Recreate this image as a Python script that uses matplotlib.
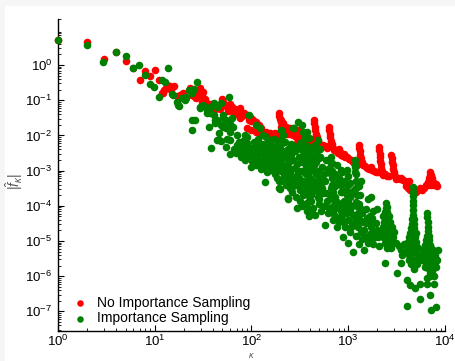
import numpy as np
import matplotlib
matplotlib.use('Agg')
import matplotlib.pyplot as plt
from matplotlib.patches import Rectangle
from matplotlib.ticker import LogLocator, NullFormatter

plt.rcParams['font.family'] = ['Liberation Sans', 'DejaVu Sans']
plt.rcParams['mathtext.fontset'] = 'custom'
plt.rcParams['mathtext.rm'] = 'Liberation Sans'
plt.rcParams['mathtext.it'] = 'Liberation Sans:italic'

# Data as (log10 kappa, log10 |f_kappa|)
red_head = [(0.00, 0.71), (0.30, 0.65), (0.48, 0.17), (0.60, 0.37), (0.70, 0.12),
            (0.78, -0.09), (0.85, -0.43), (0.90, -0.17), (0.95, -0.31), (1.00, -0.14)]
red_body = [(1.04, -0.43), (1.08, -0.80), (1.09, -0.80), (1.10, -0.71), (1.12, -0.66),
            (1.13, -0.58), (1.16, -0.60), (1.17, -0.71), (1.20, -0.60), (1.23, -0.87),
            (1.26, -0.85), (1.29, -0.80), (1.32, -0.95), (1.36, -0.66), (1.38, -0.80),
            (1.38, -0.85), (1.42, -0.90), (1.43, -0.82), (1.43, -0.95), (1.47, -0.66),
            (1.49, -0.88), (1.49, -1.04), (1.50, -0.76), (1.52, -0.97), (1.55, -1.18),
            (1.57, -1.33), (1.61, -1.28), (1.64, -1.23), (1.66, -1.18), (1.69, -0.97),
            (1.71, -1.04), (1.73, -1.14), (1.78, -1.11), (1.78, -1.14), (1.81, -1.33),
            (1.88, -1.23), (1.88, -1.51), (1.95, -1.42), (1.99, -1.51), (2.05, -1.61),
            (1.45, -0.75), (1.53, -1.05), (1.58, -1.10), (1.60, -1.20), (1.62, -1.15),
            (1.67, -1.25), (1.70, -1.10), (1.75, -1.20), (1.76, -1.30), (1.80, -1.20),
            (1.83, -1.25), (1.85, -1.40), (1.86, -1.30), (1.90, -1.45), (1.92, -1.35),
            (1.97, -1.55), (2.00, -1.60), (2.02, -1.55), (2.08, -1.70), (2.10, -1.80),
            (2.12, -1.89), (2.15, -1.90), (2.19, -1.93), (2.22, -1.95), (2.26, -1.99),
            (2.24, -1.92), (1.95, -1.80), (2.00, -1.85), (2.05, -1.90), (2.10, -1.95)]
red_mid = [(2.28, -1.37), (2.28, -1.45), (2.29, -1.52), (2.30, -1.56), (2.31, -1.62),
           (2.33, -1.66), (2.34, -1.72), (2.36, -1.75), (2.38, -1.80), (2.40, -1.80),
           (2.42, -1.85), (2.30, -1.75), (2.32, -1.85), (2.34, -1.92), (2.37, -1.95),
           (2.40, -1.95), (2.43, -1.98), (2.46, -2.05), (2.48, -1.85), (2.47, -2.22),
           (2.50, -2.05), (2.52, -2.10), (2.55, -2.15), (2.58, -2.20), (2.60, -2.25),
           (2.65, -1.56), (2.65, -1.65), (2.66, -1.75), (2.66, -1.85), (2.67, -1.95),
           (2.68, -2.05), (2.69, -2.15), (2.70, -2.25), (2.63, -2.10), (2.72, -2.30),
           (2.74, -2.28), (2.76, -2.30), (2.78, -2.35), (2.80, -1.76), (2.80, -1.85),
           (2.81, -1.95), (2.81, -2.05), (2.82, -2.15), (2.83, -2.25), (2.84, -2.35),
           (2.85, -2.41), (2.79, -2.30), (2.87, -2.45), (2.89, -2.50), (2.91, -2.48),
           (2.93, -2.55), (2.95, -2.58), (2.97, -2.62), (2.99, -2.60), (3.01, -2.66),
           (3.03, -2.70), (2.90, -2.40), (2.96, -2.52)]
red_tail = [(3.11, -2.27), (3.11, -2.35), (3.12, -2.45), (3.12, -2.55), (3.13, -2.65),
            (3.14, -2.75), (3.15, -2.85), (3.10, -2.80), (3.05, -2.75), (3.07, -2.80),
            (3.09, -2.85), (3.17, -2.88), (3.19, -2.92), (3.21, -2.95), (3.23, -2.90),
            (3.25, -2.98), (3.27, -3.00), (3.29, -3.04), (3.32, -2.33), (3.32, -2.42),
            (3.33, -2.52), (3.33, -2.62), (3.33, -2.72), (3.34, -2.82), (3.34, -2.92),
            (3.35, -3.02), (3.36, -3.12), (3.31, -3.05), (3.44, -2.56), (3.45, -2.65),
            (3.45, -2.75), (3.46, -2.85), (3.46, -2.95), (3.47, -3.05), (3.48, -3.15),
            (3.49, -3.25), (3.42, -3.15), (3.38, -3.10), (3.40, -3.15), (3.51, -3.22),
            (3.53, -3.25), (3.55, -3.20), (3.57, -3.28), (3.59, -3.30), (3.61, -3.32),
            (3.63, -3.30), (3.60, -3.45), (3.62, -3.50), (3.64, -3.55), (3.66, -3.58),
            (3.68, -3.56), (3.70, -3.60), (3.72, -3.55), (3.74, -3.50), (3.85, -3.04),
            (3.84, -3.12), (3.86, -3.12), (3.83, -3.22), (3.85, -3.22), (3.87, -3.22),
            (3.82, -3.32), (3.84, -3.32), (3.86, -3.32), (3.88, -3.32), (3.80, -3.42),
            (3.82, -3.42), (3.86, -3.42), (3.89, -3.40), (3.91, -3.38), (3.92, -3.45),
            (3.78, -3.50), (3.76, -3.55)]

green_head = [(0.00, 0.71), (0.30, 0.58), (0.47, 0.09), (0.60, 0.36), (0.70, 0.26),
              (0.78, -0.09), (0.84, -0.01), (0.90, -0.28), (0.95, -0.54), (0.99, -0.63),
              (1.04, -0.92), (1.08, -0.41), (1.11, -0.49), (1.14, -0.09), (1.18, -0.83),
              (1.19, -0.85), (1.23, -1.04), (1.24, -1.14), (1.25, -1.16), (1.28, -0.95),
              (1.31, -0.99), (1.32, -0.90), (1.35, -0.71), (1.38, -0.80), (1.38, -1.56),
              (1.39, -1.85), (1.41, -0.69), (1.42, -1.56), (1.44, -0.47), (1.47, -1.23),
              (1.47, -1.18), (1.50, -1.14), (1.54, -1.28), (1.54, -1.37), (1.56, -1.77),
              (1.57, -1.18), (1.58, -2.37), (1.61, -1.42), (1.61, -1.09), (1.62, -1.66),
              (1.62, -1.56), (1.64, -1.18), (1.64, -2.13), (1.66, -1.94), (1.66, -2.13),
              (1.68, -1.09), (1.68, -2.15), (1.71, -1.42), (1.71, -1.75), (1.71, -1.51),
              (1.74, -1.56), (1.74, -1.79), (1.75, -2.10), (1.77, -0.92), (1.78, -1.68),
              (1.78, -2.13), (1.78, -2.54), (1.78, -1.89), (1.80, -1.51), (1.57, -1.37),
              (1.64, -1.56), (1.68, -1.70), (1.75, -1.65), (1.81, -1.75), (1.74, -2.32)]
green_cloud = [(1.82, -2.40), (1.84, -2.50), (1.86, -2.35), (1.88, -2.45), (1.90, -2.55),
               (1.92, -2.40), (1.94, -2.30), (1.96, -2.50), (1.98, -2.60), (2.00, -2.45),
               (2.02, -2.35), (2.04, -2.55), (2.06, -2.65), (2.08, -2.40), (2.10, -2.50),
               (2.12, -2.70), (2.14, -2.45), (2.16, -2.60), (2.18, -2.75), (2.20, -2.55),
               (2.22, -2.40), (2.24, -2.65), (2.26, -2.80), (2.28, -2.50), (2.30, -2.70),
               (1.85, -2.28), (1.89, -2.62), (1.93, -2.70), (1.97, -2.38), (2.01, -2.72),
               (2.05, -2.30), (2.09, -2.78), (2.13, -2.35), (2.17, -2.85), (2.21, -2.90),
               (2.25, -2.30), (2.27, -2.95), (2.29, -2.40), (1.87, -2.20), (1.91, -2.15),
               (1.95, -2.05), (2.03, -2.20), (2.07, -2.10), (2.11, -2.25), (2.15, -2.05),
               (2.19, -2.20), (2.23, -2.10), (2.27, -2.15), (1.85, -1.99), (1.92, -2.22),
               (1.93, -1.99), (1.95, -2.22), (2.05, -2.22), (2.07, -2.51), (2.09, -1.80),
               (2.12, -2.79), (2.16, -2.22), (2.19, -2.65), (2.23, -2.93), (2.26, -2.41),
               (2.28, -2.75), (1.99, -2.60), (1.99, -2.89), (2.12, -1.99), (2.19, -2.13),
               (2.30, -2.13), (1.97, -1.42), (2.05, -1.70), (2.05, -2.85), (2.10, -2.95),
               (2.16, -3.05), (2.20, -2.98), (2.24, -3.10), (2.30, -3.00), (2.34, -3.15),
               (2.40, -3.05), (2.44, -3.25), (2.48, -3.00), (2.26, -3.20), (2.36, -3.40),
               (2.42, -3.60), (2.46, -3.75), (2.50, -3.85), (2.14, -3.33), (2.28, -3.30),
               (2.28, -3.50), (2.29, -3.52), (2.38, -3.82), (1.90, -2.40), (1.94, -2.60),
               (1.98, -2.35), (2.02, -2.55), (2.06, -2.45), (2.10, -2.35), (2.14, -2.65),
               (2.18, -2.40), (2.22, -2.75), (2.26, -2.55), (2.29, -2.85), (2.20, -2.30),
               (2.16, -2.90)]
green_mid = [(2.31, -1.85), (2.33, -2.00), (2.35, -2.18), (2.36, -2.84), (2.38, -2.40),
             (2.40, -2.46), (2.42, -3.22), (2.43, -1.80), (2.45, -2.93), (2.47, -3.41),
             (2.48, -1.61), (2.49, -2.60), (2.50, -2.22), (2.52, -2.75), (2.54, -3.05),
             (2.55, -2.08), (2.56, -2.45), (2.58, -2.90), (2.59, -2.08), (2.60, -3.20),
             (2.62, -2.55), (2.64, -2.32), (2.65, -2.85), (2.66, -2.27), (2.67, -3.10),
             (2.69, -2.13), (2.70, -2.65), (2.71, -2.60), (2.72, -3.35), (2.32, -2.60),
             (2.34, -2.95), (2.37, -3.10), (2.39, -2.75), (2.41, -2.55), (2.44, -2.30),
             (2.46, -3.15), (2.51, -2.40), (2.53, -3.30), (2.57, -2.65), (2.61, -2.80),
             (2.63, -3.45), (2.68, -2.45), (2.33, -3.30), (2.38, -3.79), (2.40, -3.50),
             (2.47, -4.07), (2.50, -3.55), (2.55, -3.60), (2.58, -3.40), (2.62, -3.70),
             (2.66, -3.55), (2.70, -3.80), (2.57, -1.89), (2.44, -1.80), (2.52, -1.70),
             (2.53, -1.90), (2.54, -2.10), (2.54, -2.30), (2.55, -2.50), (2.55, -2.70),
             (2.56, -2.90), (2.56, -3.10), (2.57, -3.30), (2.57, -3.50), (2.58, -3.70),
             (2.58, -3.90), (2.59, -4.10), (2.59, -4.30), (2.76, -4.55), (2.31, -2.25),
             (2.31, -2.95), (2.35, -2.45), (2.35, -3.25), (2.37, -2.65), (2.39, -3.35),
             (2.41, -2.25), (2.41, -2.95), (2.43, -2.70), (2.43, -3.45), (2.45, -2.45),
             (2.47, -2.80), (2.49, -3.20), (2.49, -2.35), (2.51, -3.00), (2.53, -2.55),
             (2.55, -3.40), (2.57, -2.30), (2.59, -2.70), (2.59, -3.05), (2.61, -2.40),
             (2.61, -3.55), (2.63, -2.95), (2.65, -2.60), (2.65, -3.30), (2.67, -2.75),
             (2.69, -3.00), (2.69, -3.60), (2.71, -2.40), (2.71, -3.20)]
green_low = [(2.50, -3.40), (2.53, -3.70), (2.55, -3.95), (2.57, -4.15), (2.60, -3.60),
             (2.62, -3.85), (2.64, -4.05), (2.66, -4.25), (2.68, -3.45), (2.70, -3.95),
             (2.72, -4.15), (2.74, -3.65), (2.76, -3.30), (2.78, -3.85), (2.80, -4.05),
             (2.82, -3.50), (2.84, -4.20), (2.86, -3.75), (2.88, -3.35), (2.90, -3.95),
             (2.92, -4.15), (2.94, -3.60), (2.96, -3.85), (2.98, -4.05), (3.00, -3.40),
             (3.02, -3.75), (3.04, -4.00), (3.06, -3.55), (3.08, -3.90), (3.10, -4.20),
             (3.12, -3.70), (2.52, -4.00), (2.59, -3.30), (2.63, -4.20), (2.69, -3.75),
             (2.75, -4.00), (2.81, -3.70), (2.87, -4.05), (2.93, -3.40), (2.99, -3.70),
             (3.05, -4.25), (3.11, -3.45), (2.82, -2.60), (2.82, -2.80), (2.83, -3.00),
             (2.83, -3.20), (2.83, -3.40), (2.84, -3.60), (2.84, -3.80), (2.84, -4.00),
             (2.84, -4.40), (3.07, -2.70), (3.07, -2.90), (3.08, -3.10), (3.08, -3.30),
             (3.08, -3.50), (3.09, -3.70), (3.09, -4.00), (3.09, -4.40), (2.83, -2.79),
             (2.81, -3.08), (2.92, -2.98), (2.99, -2.98), (2.71, -2.60), (3.07, -2.84),
             (3.07, -3.03), (2.86, -4.30), (2.90, -4.45), (2.94, -4.25), (2.97, -4.60),
             (3.00, -4.40), (3.02, -4.75), (3.04, -4.50), (3.06, -4.30), (3.08, -4.85),
             (3.10, -4.60), (3.12, -4.40), (3.14, -4.95), (3.16, -4.70), (3.18, -4.50),
             (3.20, -5.05), (3.22, -4.80), (3.24, -4.60), (3.26, -5.10), (3.28, -4.90),
             (3.30, -4.70), (3.32, -5.15), (3.05, -5.30), (3.16, -5.26), (2.88, -4.60),
             (2.95, -4.90), (3.00, -5.05), (3.11, -5.10), (3.19, -4.35), (3.25, -4.35),
             (3.23, -3.74), (3.40, -4.03), (3.20, -3.80), (3.30, -4.10), (2.73, -2.90),
             (2.73, -3.50), (2.75, -3.10), (2.77, -2.70), (2.77, -3.65), (2.79, -2.95),
             (2.79, -4.20), (2.86, -3.10), (2.86, -3.45), (2.88, -2.85), (2.88, -3.90),
             (2.90, -3.20), (2.92, -3.60), (2.94, -3.05), (2.94, -4.00), (2.96, -3.30),
             (2.98, -3.55), (3.00, -3.15), (3.00, -3.90), (3.02, -3.35), (3.02, -4.15),
             (3.04, -3.60), (3.11, -3.95), (3.13, -3.30), (3.13, -4.10), (2.92, -4.35),
             (2.96, -4.45), (2.99, -4.20), (3.03, -4.60), (3.07, -4.55), (3.09, -4.25),
             (3.13, -4.75), (3.15, -4.45), (3.17, -4.90), (3.21, -4.50), (3.23, -4.95),
             (3.27, -4.75), (3.29, -4.50), (3.31, -4.90), (3.14, -4.20), (3.18, -4.10),
             (3.22, -4.30), (3.26, -4.15)]
green_towers = [(3.39, -3.92), (3.39, -4.05), (3.38, -4.18), (3.40, -4.18), (3.36, -4.30),
                (3.39, -4.30), (3.42, -4.30), (3.37, -4.45), (3.40, -4.45), (3.43, -4.45),
                (3.36, -4.60), (3.39, -4.60), (3.42, -4.60), (3.45, -4.60), (3.35, -4.75),
                (3.38, -4.75), (3.41, -4.75), (3.44, -4.75), (3.47, -4.75), (3.36, -4.90),
                (3.39, -4.90), (3.42, -4.90), (3.46, -4.90), (3.38, -5.05), (3.41, -5.05),
                (3.45, -5.05), (3.49, -5.05), (3.40, -5.20), (3.44, -5.20), (3.38, -5.63),
                (3.50, -5.92), (3.55, -5.63), (3.52, -5.15), (3.55, -5.25), (3.58, -5.10),
                (3.60, -5.35), (3.62, -5.20), (3.64, -5.45), (3.66, -5.10), (3.68, -5.30),
                (3.70, -5.50), (3.72, -5.20), (3.74, -5.40), (3.76, -5.55), (3.78, -5.25),
                (3.80, -5.45), (3.82, -5.60), (3.84, -5.35), (3.86, -5.50), (3.88, -5.70),
                (3.90, -5.40), (3.92, -5.55), (3.93, -5.25), (3.56, -5.40), (3.63, -5.55),
                (3.71, -5.65), (3.79, -5.75), (3.87, -5.85), (3.91, -5.75), (3.67, -3.47),
                (3.67, -3.60), (3.67, -3.73), (3.67, -3.86), (3.67, -3.99), (3.67, -4.12),
                (3.67, -4.25), (3.66, -4.38), (3.68, -4.38), (3.66, -4.51), (3.68, -4.51),
                (3.65, -4.64), (3.68, -4.64), (3.64, -4.77), (3.67, -4.77), (3.70, -4.77),
                (3.63, -4.90), (3.66, -4.90), (3.69, -4.90), (3.62, -5.03), (3.66, -5.03),
                (3.70, -5.03), (3.63, -5.16), (3.67, -5.16), (3.71, -5.16), (3.66, -5.30),
                (3.69, -5.30), (3.65, -5.65), (3.68, -5.80), (3.81, -4.20), (3.81, -4.33),
                (3.82, -4.46), (3.82, -4.59), (3.82, -4.72), (3.81, -4.85), (3.83, -4.85),
                (3.80, -4.98), (3.83, -4.98), (3.79, -5.11), (3.82, -5.11), (3.85, -5.11),
                (3.78, -5.24), (3.81, -5.24), (3.84, -5.24), (3.87, -5.24), (3.77, -5.37),
                (3.80, -5.37), (3.83, -5.37), (3.86, -5.37), (3.89, -5.37), (3.78, -5.50),
                (3.81, -5.50), (3.84, -5.50), (3.88, -5.50), (3.91, -5.50), (3.80, -5.63),
                (3.83, -5.63), (3.86, -5.63), (3.90, -5.63), (3.82, -5.78), (3.86, -5.78),
                (3.84, -5.92), (3.81, -6.05), (3.85, -6.00)]
green_outliers = [(3.61, -6.11), (3.64, -6.25), (3.69, -6.34), (3.74, -6.22), (3.81, -6.22),
                  (3.89, -6.22), (3.89, -6.00), (3.84, -6.53), (3.74, -6.65), (3.61, -6.84),
                  (3.86, -6.96), (3.91, -6.87)]

red = np.array(red_head + red_body + red_mid + red_tail)
green = np.array(green_head + green_cloud + green_mid + green_low + green_towers + green_outliers)

fig = plt.figure(figsize=(4.56, 3.61), dpi=100, facecolor='#f6f6f6')
fig.patches.append(Rectangle((5 / 456, 0), 1, 1 - 6 / 361, transform=fig.transFigure,
                             facecolor='white', edgecolor='none', zorder=-10))
ax = fig.add_axes([58 / 456, 30 / 361, 387 / 456, 312 / 361])
ax.set_facecolor('white')

ax.scatter(10 ** red[:, 0], 10 ** red[:, 1], s=30, c='#ff0000', linewidths=0,
           label='No Importance Sampling', clip_on=False, zorder=3)
ax.scatter(10 ** green[:, 0], 10 ** green[:, 1], s=30, c='#008000', linewidths=0,
           label='Importance Sampling', clip_on=False, zorder=4)

ax.set_xscale('log')
ax.set_yscale('log')
ax.set_xlim(1, 1e4)
ax.set_ylim(10 ** -7.56, 10 ** 1.31)
ax.set_yticks([10.0 ** k for k in range(-7, 1)])
ax.yaxis.set_minor_locator(LogLocator(base=10, subs=np.arange(2, 10), numticks=20))
ax.yaxis.set_minor_formatter(NullFormatter())
ax.xaxis.set_minor_locator(LogLocator(base=10, subs=np.arange(2, 10), numticks=20))

for side in ['top', 'right']:
    ax.spines[side].set_visible(False)
for side in ['left', 'bottom']:
    ax.spines[side].set_linewidth(1.0)
ax.tick_params(which='both', direction='in', labelsize=9.5)
ax.tick_params(axis='x', pad=2)
ax.tick_params(axis='y', pad=4)
ax.tick_params(which='major', length=4, width=0.8)
ax.tick_params(which='minor', length=2, width=0.6)

ax.set_xlabel(r'$\kappa$', fontsize=6.5, color='#555555')
ax.xaxis.set_label_coords(0.5, -0.064)
ax.set_ylabel(r'$|\hat{f}_\kappa|$', fontsize=10, color='#555555')
ax.yaxis.set_label_coords(-0.085, 0.48)

ax.legend(loc='lower left', bbox_to_anchor=(0.025, 0.0), frameon=False, fontsize=10,
          scatterpoints=1, handlelength=1.0, handletextpad=0.7, labelspacing=0.1,
          borderaxespad=0.0, markerscale=0.85)

fig.savefig('out.png', dpi=100, facecolor=fig.get_facecolor())
